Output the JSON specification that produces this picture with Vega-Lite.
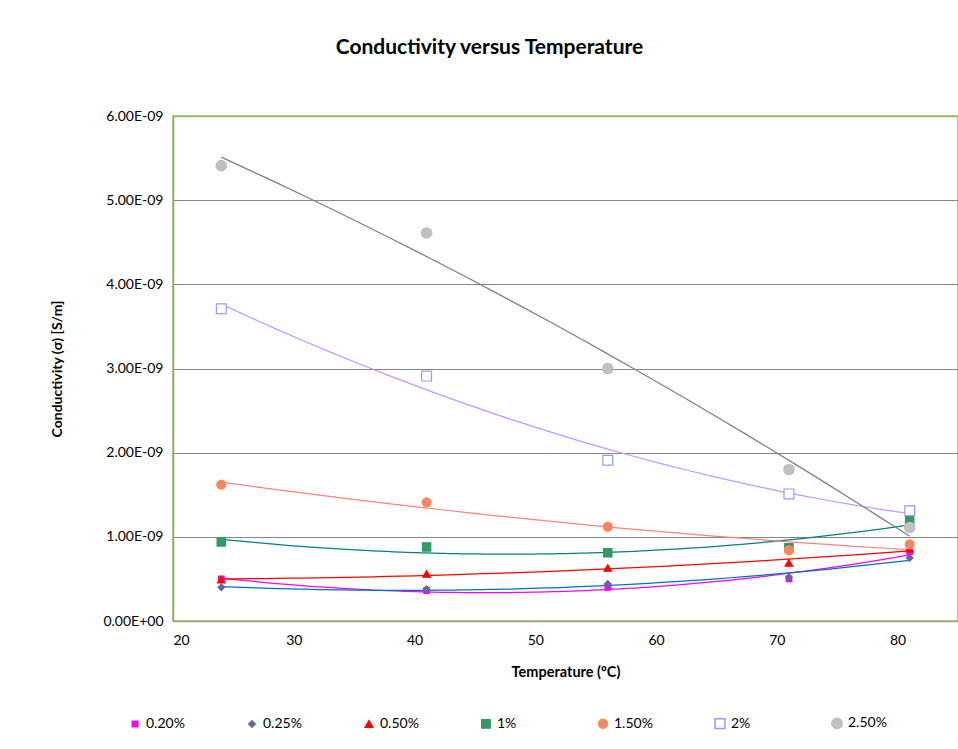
{
  "$schema": "https://vega.github.io/schema/vega-lite/v6.json",
  "width": 785,
  "height": 505,
  "padding": {"left": 50, "top": 37, "right": 0, "bottom": 0},
  "background": "white",
  "title": {
    "text": "Conductivity versus Temperature",
    "font": "Lato",
    "fontSize": 21,
    "fontWeight": "bold",
    "color": "black",
    "anchor": "middle",
    "dx": -76,
    "baseline": "alphabetic",
    "offset": 34
  },
  "config": {
    "font": "Lato",
    "view": {"stroke": "#9BBB59", "strokeWidth": 1.5},
    "axis": {
      "labelFont": "Lato",
      "titleFont": "Lato",
      "labelColor": "black",
      "titleColor": "black",
      "labelFontSize": 14,
      "titleFontSize": 14.5,
      "titleFontWeight": "bold",
      "ticks": false,
      "tickSize": 0,
      "domainColor": "#98A47A",
      "domainWidth": 1.5
    },
    "legend": {
      "labelFont": "Lato",
      "labelFontSize": 14,
      "labelColor": "black"
    }
  },
  "data": {
    "values": [
      {"series": "0.20%", "temp": 24, "cond": 0.50e-9},
      {"series": "0.20%", "temp": 41, "cond": 0.36e-9},
      {"series": "0.20%", "temp": 56, "cond": 0.40e-9},
      {"series": "0.20%", "temp": 71, "cond": 0.50e-9},
      {"series": "0.20%", "temp": 81, "cond": 0.82e-9},
      {"series": "0.25%", "temp": 24, "cond": 0.40e-9},
      {"series": "0.25%", "temp": 41, "cond": 0.38e-9},
      {"series": "0.25%", "temp": 56, "cond": 0.44e-9},
      {"series": "0.25%", "temp": 71, "cond": 0.52e-9},
      {"series": "0.25%", "temp": 81, "cond": 0.75e-9},
      {"series": "0.50%", "temp": 24, "cond": 0.49e-9},
      {"series": "0.50%", "temp": 41, "cond": 0.56e-9},
      {"series": "0.50%", "temp": 56, "cond": 0.63e-9},
      {"series": "0.50%", "temp": 71, "cond": 0.69e-9},
      {"series": "0.50%", "temp": 81, "cond": 0.86e-9},
      {"series": "1%", "temp": 24, "cond": 0.94e-9},
      {"series": "1%", "temp": 41, "cond": 0.88e-9},
      {"series": "1%", "temp": 56, "cond": 0.81e-9},
      {"series": "1%", "temp": 71, "cond": 0.87e-9},
      {"series": "1%", "temp": 81, "cond": 1.20e-9},
      {"series": "1.50%", "temp": 24, "cond": 1.62e-9},
      {"series": "1.50%", "temp": 41, "cond": 1.41e-9},
      {"series": "1.50%", "temp": 56, "cond": 1.12e-9},
      {"series": "1.50%", "temp": 71, "cond": 0.84e-9},
      {"series": "1.50%", "temp": 81, "cond": 0.91e-9},
      {"series": "2%", "temp": 24, "cond": 3.71e-9},
      {"series": "2%", "temp": 41, "cond": 2.91e-9},
      {"series": "2%", "temp": 56, "cond": 1.91e-9},
      {"series": "2%", "temp": 71, "cond": 1.51e-9},
      {"series": "2%", "temp": 81, "cond": 1.31e-9},
      {"series": "2.50%", "temp": 24, "cond": 5.41e-9},
      {"series": "2.50%", "temp": 41, "cond": 4.61e-9},
      {"series": "2.50%", "temp": 56, "cond": 3.00e-9},
      {"series": "2.50%", "temp": 71, "cond": 1.80e-9},
      {"series": "2.50%", "temp": 81, "cond": 1.11e-9}
    ]
  },
  "encoding": {
    "x": {
      "field": "temp",
      "type": "quantitative",
      "scale": {"domain": [20, 85], "nice": false, "zero": false},
      "axis": {
        "title": "Temperature (ºC)",
        "values": [20, 30, 40, 50, 60, 70, 80],
        "grid": false,
        "labelPadding": 12,
        "titlePadding": 18
      }
    },
    "y": {
      "field": "cond",
      "type": "quantitative",
      "scale": {"domain": [0, 6e-9], "nice": false},
      "axis": {
        "title": "Conductivity (σ)  [S/m]",
        "titleFontSize": 14,
        "values": [0, 1e-9, 2e-9, 3e-9, 4e-9, 5e-9, 6e-9],
        "labelExpr": "datum.value === 0 ? '0.00E+00' : format(datum.value * 1e9, '.2f') + 'E-09'",
        "labelPadding": 10,
        "titlePadding": 38,
        "grid": true,
        "gridColor": {"condition": {"test": "datum.value >= 5.9e-9", "value": "#9BBB59"}, "value": "#868686"},
        "gridWidth": {"condition": {"test": "datum.value >= 5.9e-9", "value": 1.5}, "value": 1}
      }
    }
  },
  "layer": [
    {
      "transform": [
        {"regression": "cond", "on": "temp", "groupby": ["series"], "method": "poly", "order": 2, "extent": [24, 81]}
      ],
      "mark": {"type": "line", "strokeWidth": 1.25},
      "encoding": {
        "color": {
          "field": "series",
          "type": "nominal",
          "scale": {
            "domain": ["2.50%", "2%", "1.50%", "1%", "0.50%", "0.25%", "0.20%"],
            "range": ["#808080", "#C896FF", "#FF8080", "#008080", "#FF0000", "#0070C0", "#FF00FF"]
          },
          "legend": null
        }
      }
    },
    {
      "mark": {"type": "point", "filled": true, "opacity": 1, "strokeWidth": 1.2},
      "encoding": {
        "fill": {
          "field": "series",
          "type": "nominal",
          "title": null,
          "scale": {
            "domain": ["0.20%", "0.25%", "0.50%", "1%", "1.50%", "2%", "2.50%"],
            "range": ["#FF00FF", "#666699", "#FF0000", "#339966", "#F98072", "#FFFFFF", "#C0C0C0"]
          },
          "legend": {"orient": "none", "legendX": -45, "legendY": 600, "direction": "horizontal", "columns": 7, "gridAlign": "all", "columnPadding": 58, "labelOffset": 4}
        },
        "stroke": {
          "field": "series",
          "type": "nominal",
          "title": null,
          "scale": {
            "domain": ["0.20%", "0.25%", "0.50%", "1%", "1.50%", "2%", "2.50%"],
            "range": ["#FF00FF", "#666699", "#FF0000", "#339966", "#F79646", "#9999FF", "#C0C0C0"]
          },
          "legend": {"orient": "none", "legendX": -45, "legendY": 600, "direction": "horizontal", "columns": 7, "gridAlign": "all", "columnPadding": 58, "labelOffset": 4}
        },
        "shape": {
          "field": "series",
          "type": "nominal",
          "title": null,
          "scale": {
            "domain": ["0.20%", "0.25%", "0.50%", "1%", "1.50%", "2%", "2.50%"],
            "range": ["square", "diamond", "triangle-up", "square", "circle", "square", "circle"]
          },
          "legend": {"orient": "none", "legendX": -45, "legendY": 600, "direction": "horizontal", "columns": 7, "gridAlign": "all", "columnPadding": 58, "labelOffset": 4}
        },
        "size": {
          "field": "series",
          "type": "nominal",
          "title": null,
          "scale": {
            "domain": ["0.20%", "0.25%", "0.50%", "1%", "1.50%", "2%", "2.50%"],
            "range": [30, 110, 130, 120, 140, 75, 140]
          },
          "legend": {"orient": "none", "legendX": -45, "legendY": 600, "direction": "horizontal", "columns": 7, "gridAlign": "all", "columnPadding": 58, "labelOffset": 4}
        }
      }
    }
  ]
}
